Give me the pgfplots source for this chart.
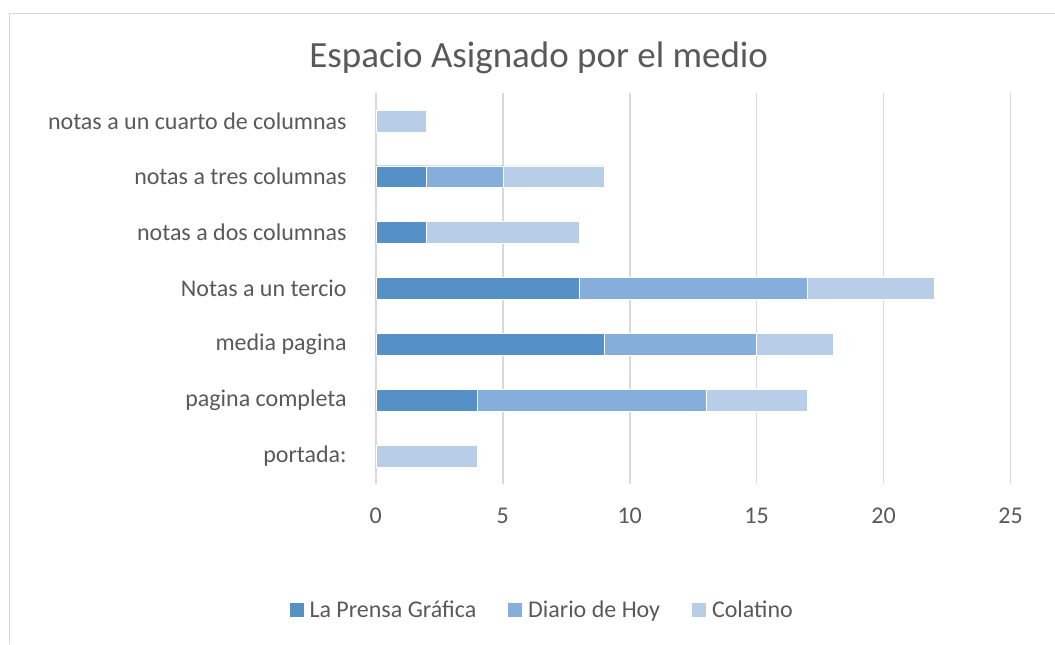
\documentclass[border=0pt]{standalone}
\usepackage{pgfplots}
\pgfplotsset{compat=1.18}
\usepackage{fontspec}
\setmainfont{Carlito}
\definecolor{c1}{HTML}{5591C7}
\definecolor{c2}{HTML}{85AEDB}
\definecolor{c3}{HTML}{B8CEE8}
\definecolor{txt}{HTML}{595959}
\definecolor{gridc}{HTML}{D9D9D9}
\pgfplotsset{myleg/.style={legend image code/.code={\path (0pt,0pt) -- (18.5pt,0pt);\fill[##1] (0pt,-7.5pt) rectangle (15pt,7.5pt);}}}
\begin{document}
\begin{tikzpicture}[x=1pt,y=1pt]
\path (0,0) rectangle (1055,644);
\draw[color=gridc, line width=1pt] (10,0) -- (10,630) -- (1055,630);
\node[anchor=base, text=txt, font=\fontsize{37}{44}\selectfont, inner sep=0pt] at (539,576) {Espacio Asignado por el medio};
\begin{axis}[
  at={(376pt,160pt)}, anchor=south west,
  scale only axis, width=635pt, height=391pt,
  xbar stacked, bar width=22pt,
  xmin=0, xmax=25, ymin=-0.5, ymax=6.5,
  xtick={0,5,...,25}, ytick={0,...,6},
  yticklabels={portada:, pagina completa, media pagina, Notas a un tercio, notas a dos columnas, notas a tres columnas, notas a un cuarto de columnas},
  axis line style={draw=none},
  major tick length=0pt,
  xmajorgrids=true, ymajorgrids=false,
  grid style={color=gridc, line width=1.6pt},
  /pgf/number format/assume math mode=true,
  x tick label style={font=\fontsize{24}{29}\selectfont, text=txt, inner sep=0pt, yshift=-24pt},
  y tick label style={font=\fontsize{24}{29}\selectfont, text=txt, inner sep=0pt, xshift=-29pt},
  legend columns=3,
  legend style={at={(axis description cs:0.2614,-0.3235)}, anchor=center, draw=none, fill=none,
    font=\fontsize{24}{29}\selectfont, text=txt,
    /tikz/every even column/.append style={column sep=29pt}},
]
\addplot[fill=c1, draw=white, line width=0.4pt, myleg] coordinates {(0,0) (4,1) (9,2) (8,3) (2,4) (2,5) (0,6)};
\addplot[fill=c2, draw=white, line width=0.4pt, myleg] coordinates {(0,0) (9,1) (6,2) (9,3) (0,4) (3,5) (0,6)};
\addplot[fill=c3, draw=white, line width=0.4pt, myleg] coordinates {(4,0) (4,1) (3,2) (5,3) (6,4) (4,5) (2,6)};
\legend{La Prensa Gráfica, Diario de Hoy, Colatino}
\end{axis}
\end{tikzpicture}
\end{document}
